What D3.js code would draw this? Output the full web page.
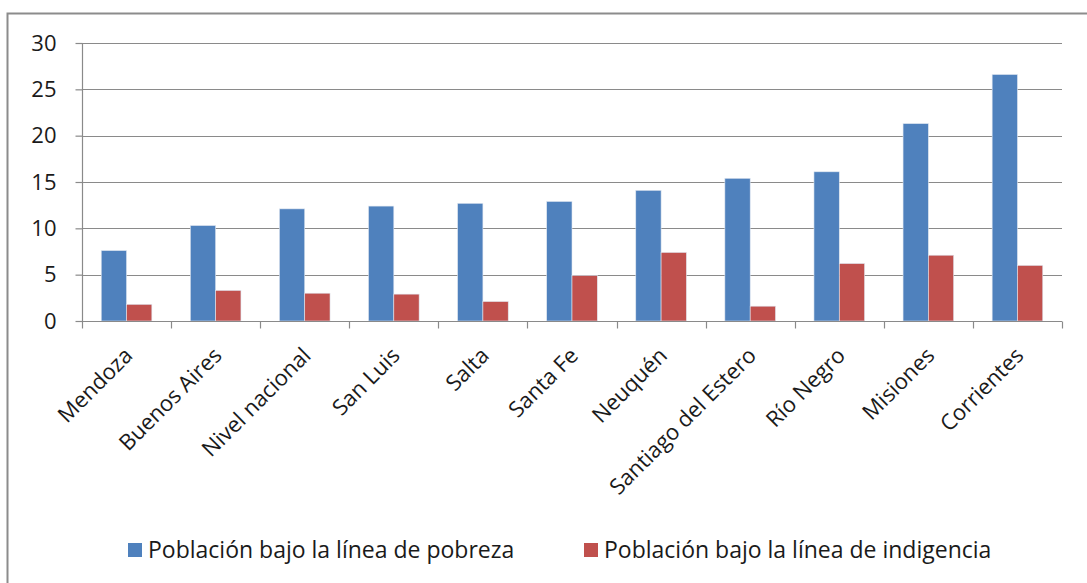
<!DOCTYPE html>
<html>
<head>
<meta charset="utf-8">
<script src="https://cdn.jsdelivr.net/npm/d3@7"></script>
<style>
  html, body { margin: 0; padding: 0; background: #fff; }
  svg { display: block; }
  text { font-family: "Open Sans", sans-serif; fill: #1a1a1a; }
</style>
</head>
<body>
<svg id="chart" width="1087" height="583"></svg>
<script>
// Provinces, ordered by share of population below the poverty line
const categories = ["Mendoza", "Buenos Aires", "Nivel nacional", "San Luis", "Salta",
  "Santa Fe", "Neuquén", "Santiago del Estero", "Río Negro", "Misiones", "Corrientes"];
const pobreza =    [7.6, 10.3, 12.1, 12.4, 12.7, 12.9, 14.1, 15.4, 16.1, 21.3, 26.6];
const indigencia = [1.8, 3.3, 3.0, 2.9, 2.1, 4.9, 7.4, 1.6, 6.2, 7.1, 6.0];
const seriesNames = ["Población bajo la línea de pobreza", "Población bajo la línea de indigencia"];
const seriesColors = ["#4F81BD", "#C0504D"];
const yTicks = [0, 5, 10, 15, 20, 25, 30];

const svg = d3.select("#chart");
const plot = { left: 82, right: 1062, top: 43, bottom: 321 };

// chart frame
svg.append("rect")
  .attr("x", 7.5).attr("y", 13.5)
  .attr("width", 1100).attr("height", 600)
  .attr("fill", "none").attr("stroke", "#8c8c8c").attr("stroke-width", 2);

const x = d3.scaleBand().domain(categories).range([plot.left, plot.right]);
const xInner = d3.scaleBand().domain([0, 1]).range([0, x.bandwidth()])
  .paddingOuter(0.76).paddingInner(0);
const y = d3.scaleLinear().domain([0, 30]).range([plot.bottom, plot.top]);

// horizontal gridlines
svg.append("g")
  .selectAll("line")
  .data(yTicks.filter(d => d > 0))
  .join("line")
  .attr("x1", plot.left).attr("x2", plot.right)
  .attr("y1", d => Math.round(y(d)) + 0.5).attr("y2", d => Math.round(y(d)) + 0.5)
  .attr("stroke", "#8a8a8a").attr("stroke-width", 1.2);

// bars
const series = [pobreza, indigencia];
series.forEach((vals, s) => {
  svg.append("g")
    .selectAll("rect")
    .data(categories.map((c, i) => ({ c, v: vals[i] })))
    .join("rect")
    .attr("x", d => x(d.c) + xInner(s))
    .attr("y", d => y(d.v))
    .attr("width", xInner.bandwidth())
    .attr("height", d => y(0) - y(d.v))
    .attr("fill", seriesColors[s])
    .attr("stroke", "#dfe6f0").attr("stroke-width", 0.6);
});

// y axis
const yAxis = d3.axisLeft(y).tickValues(yTicks).tickSize(7).tickPadding(19);
const gy = svg.append("g").attr("transform", `translate(${plot.left + 0.5},0)`).call(yAxis);
gy.select(".domain").attr("stroke", "#8a8a8a").attr("stroke-width", 1.2).attr("d", `M0,${plot.top}V${plot.bottom}`);
gy.selectAll(".tick line").attr("stroke", "#8a8a8a").attr("stroke-width", 1.2);
gy.selectAll(".tick text")
  .style("font-family", '"Open Sans", sans-serif')
  .attr("font-size", 22).attr("fill", "#1a1a1a");

// x axis with category-boundary ticks
const gx = svg.append("g").attr("transform", `translate(0,${Math.round(y(0)) + 0.5})`);
gx.append("line").attr("x1", plot.left).attr("x2", plot.right)
  .attr("stroke", "#8a8a8a").attr("stroke-width", 1.2);
gx.selectAll("line.tk")
  .data(categories.map(c => x(c)).concat([plot.right]))
  .join("line").attr("class", "tk")
  .attr("x1", d => Math.round(d) + 0.5).attr("x2", d => Math.round(d) + 0.5)
  .attr("y1", 0).attr("y2", 7)
  .attr("stroke", "#8a8a8a").attr("stroke-width", 1.2);

gx.selectAll("text")
  .data(categories)
  .join("text")
  .attr("transform", c => `translate(${x(c) + x.bandwidth() / 2 + 2},${30}) rotate(-45)`)
  .attr("text-anchor", "end")
  .attr("dy", "0.35em")
  .attr("font-size", 22)
  .text(c => c);

// legend
const legendItems = [{ x: 128, tx: 148 }, { x: 584, tx: 604 }];
legendItems.forEach((item, i) => {
  const g = svg.append("g").attr("transform", "translate(0,550)");
  g.append("rect").attr("x", item.x).attr("y", -7).attr("width", 14).attr("height", 14)
    .attr("fill", seriesColors[i]);
  g.append("text").attr("x", item.tx).attr("y", 8)
    .attr("font-size", 23).text(seriesNames[i]);
});
</script>
</body>
</html>
